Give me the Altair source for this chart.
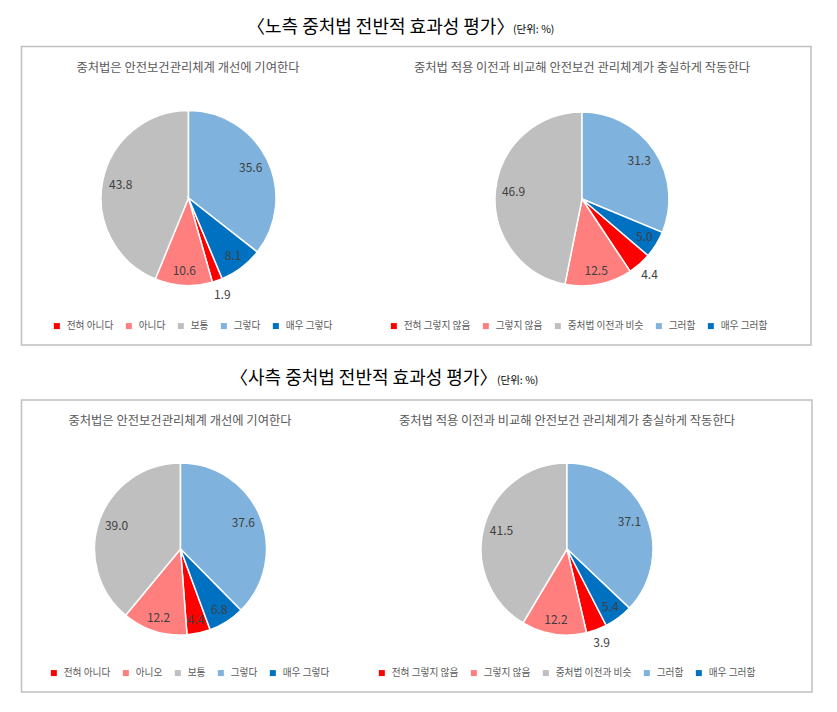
import math
import altair as alt
import pandas as pd

# ---------------- data ----------------
title_labor = "〈노측 중처법 전반적 효과성 평가〉"
title_mgmt = "〈사측 중처법 전반적 효과성 평가〉"
unit_text = "(단위: %)"
question_1 = "중처법은 안전보건관리체계 개선에 기여한다"
question_2 = "중처법 적용 이전과 비교해 안전보건 관리체계가 충실하게 작동한다"

cats_labor_q1 = ["전혀 아니다", "아니다", "보통", "그렇다", "매우 그렇다"]
cats_mgmt_q1 = ["전혀 아니다", "아니오", "보통", "그렇다", "매우 그렇다"]
cats_q2 = ["전혀 그렇지 않음", "그렇지 않음", "중처법 이전과 비슷", "그러함", "매우 그러함"]

labor_q1 = [1.9, 10.6, 43.8, 35.6, 8.1]
labor_q2 = [4.4, 12.5, 46.9, 31.3, 5.0]
mgmt_q1 = [4.4, 12.2, 39.0, 37.6, 6.8]
mgmt_q2 = [3.9, 12.2, 41.5, 37.1, 5.4]

# ---------------- style ----------------
FONT = "Noto Sans CJK KR"
colors = ["#FF0000", "#FF7F7F", "#BFBFBF", "#7FB3DD", "#0070C0"]
START = 3  # slice drawn first at 12 o'clock (clockwise)

panels = [
    dict(q=question_1, cats=cats_labor_q1, vals=labor_q1, cx=180.5, cy=190, r=87.5,
         qx=180, qy=60, lx=44, ly=313, outside=[0]),
    dict(q=question_2, cats=cats_q2, vals=labor_q2, cx=574, cy=191, r=87,
         qx=574, qy=60, lx=381, ly=313, outside=[0]),
    dict(q=question_1, cats=cats_mgmt_q1, vals=mgmt_q1, cx=172.5, cy=541, r=86,
         qx=172, qy=413, lx=41, ly=660, outside=[]),
    dict(q=question_2, cats=cats_q2, vals=mgmt_q2, cx=559, cy=541, r=86,
         qx=559, qy=413, lx=369, ly=660, outside=[0]),
]

layers = []

# frames
frames = [(13.5, 803, 38.5, 337), (13.5, 804, 392, 684)]
for x1, x2, y1, y2 in frames:
    layers.append(
        alt.Chart(alt.Data(values=[{}])).mark_rect(
            fill=None, stroke="#BFBFBF", strokeWidth=1.5
        ).encode(x=alt.value(x1), x2=alt.value(x2), y=alt.value(y1), y2=alt.value(y2))
    )

# main titles
for t, tx, ty, ux in [(title_labor, 239, 20, 505), (title_mgmt, 222, 371, 489)]:
    layers.append(
        alt.Chart(alt.Data(values=[{"t": t}])).mark_text(
            font=FONT, fontSize=18, align="left", baseline="middle",
            color="#000000"
        ).encode(text="t:N", x=alt.value(tx), y=alt.value(ty))
    )
    layers.append(
        alt.Chart(alt.Data(values=[{"t": unit_text}])).mark_text(
            font=FONT, fontSize=10.5, align="left", baseline="middle", color="#000000"
        ).encode(text="t:N", x=alt.value(ux), y=alt.value(ty + 2))
    )

for p in panels:
    n = len(p["cats"])
    rows = []
    for i, (c, v) in enumerate(zip(p["cats"], p["vals"])):
        if i in p["outside"]:
            lr = p["r"] * 1.17
        elif v > 20:
            lr = p["r"] * 0.79
        else:
            lr = p["r"] * 0.84
        rows.append(dict(cat=c, value=v, order=(i - START) % n, label=f"{v:.1f}", lr=lr))
    df = pd.DataFrame(rows)
    total = float(sum(p["vals"]))

    # subtitle
    layers.append(
        alt.Chart(alt.Data(values=[{"t": p["q"]}])).mark_text(
            font=FONT, fontSize=12.3, align="center", baseline="middle", color="#595959"
        ).encode(text="t:N", x=alt.value(p["qx"]), y=alt.value(p["qy"]))
    )

    arc = alt.Chart(df).mark_arc(stroke="white", strokeWidth=1.5).encode(
        theta=alt.Theta("value:Q", stack=True),
        order=alt.Order("order:Q"),
        color=alt.Color(
            "cat:N",
            scale=alt.Scale(domain=p["cats"], range=colors),
            legend=alt.Legend(
                title=None, orient="none", legendX=p["lx"], legendY=p["ly"],
                direction="horizontal", columns=5, symbolType="square",
                symbolSize=36, symbolStrokeWidth=0, labelFontSize=9.7,
                labelColor="#595959", labelFont=FONT, columnPadding=10,
                labelOffset=5, labelLimit=200,
            ),
        ),
        x=alt.value(p["cx"]), y=alt.value(p["cy"]), radius=alt.value(p["r"]),
    )
    txt = alt.Chart(df).transform_window(
        cum="sum(value)", sort=[alt.SortField("order")], frame=[None, 0]
    ).transform_calculate(
        mid="datum.cum - datum.value / 2"
    ).mark_text(font=FONT, fontSize=12, color="#404040").encode(
        theta=alt.Theta("mid:Q", stack=None,
                        scale=alt.Scale(domain=[0, total], range=[0, 2 * math.pi])),
        radius=alt.Radius("lr:Q", scale=None),
        text="label:N",
        x=alt.value(p["cx"]), y=alt.value(p["cy"]),
    )
    layers += [arc, txt]

chart = alt.layer(*layers).resolve_scale(
    theta="independent", color="independent", radius="independent"
).properties(
    width=820, height=695, padding=0, autosize=alt.AutoSizeParams(type="none")
).configure_view(stroke=None)

chart.save("out.html", embed_options={"renderer": "svg", "actions": False})
